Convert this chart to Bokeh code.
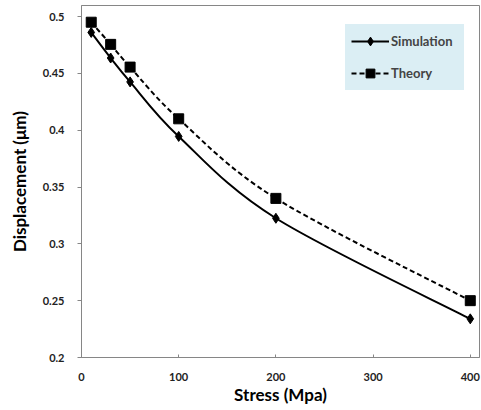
from bokeh.plotting import figure
from bokeh.models import Range1d, FixedTicker, Legend, LegendItem, ColumnDataSource
from bokeh.embed import file_html
from bokeh.resources import INLINE
import numpy as np

stress = [10, 30, 50, 100, 200, 400]
simulation = [0.486, 0.4635, 0.4425, 0.3945, 0.3225, 0.234]
theory = [0.495, 0.4755, 0.4555, 0.410, 0.340, 0.250]
x_ticks = [0, 100, 200, 300, 400]
y_ticks = [0.2, 0.25, 0.3, 0.35, 0.4, 0.45, 0.5]

FONT = "Lato"
AXIS_GRAY = "#868686"
LEGEND_BG = "#DBEEF4"


def smooth_segments(xs, ys):
    """Excel-style smoothed line: cubic Bezier control points (Catmull-Rom)."""
    x = np.asarray(xs, float)
    y = np.asarray(ys, float)
    n = len(x)
    xp = np.concatenate([[x[0]], x, [x[-1]]])
    yp = np.concatenate([[y[0]], y, [y[-1]]])
    d = dict(x0=[], y0=[], x1=[], y1=[], cx0=[], cy0=[], cx1=[], cy1=[])
    for i in range(n - 1):
        p0x, p0y = xp[i], yp[i]
        p1x, p1y = xp[i + 1], yp[i + 1]
        p2x, p2y = xp[i + 2], yp[i + 2]
        p3x, p3y = xp[i + 3], yp[i + 3]
        d["x0"].append(p1x); d["y0"].append(p1y)
        d["x1"].append(p2x); d["y1"].append(p2y)
        d["cx0"].append(p1x + (p2x - p0x) / 6.0)
        d["cy0"].append(p1y + (p2y - p0y) / 6.0)
        d["cx1"].append(p2x - (p3x - p1x) / 6.0)
        d["cy1"].append(p2y - (p3y - p1y) / 6.0)
    return ColumnDataSource(d)


p = figure(width=481, height=410, output_backend="svg", toolbar_location=None,
           x_range=Range1d(0, 409.5), y_range=Range1d(0.2, 0.5097),
           min_border_left=81, min_border_right=2, min_border_top=5,
           min_border_bottom=53)
p.background_fill_color = "white"
p.border_fill_color = "white"
p.outline_line_color = AXIS_GRAY
p.outline_line_width = 1
p.xgrid.visible = False
p.ygrid.visible = False

p.xaxis.ticker = FixedTicker(ticks=x_ticks)
p.yaxis.ticker = FixedTicker(ticks=y_ticks)
p.yaxis.major_label_overrides = {0.2: "0.2", 0.25: "0.25", 0.3: "0.3", 0.35: "0.35",
                                 0.4: "0.4", 0.45: "0.45", 0.5: "0.5"}
for ax in (p.xaxis[0], p.yaxis[0]):
    ax.axis_line_color = AXIS_GRAY
    ax.major_tick_line_color = AXIS_GRAY
    ax.minor_tick_line_color = None
    ax.major_label_text_font = FONT
    ax.major_label_text_font_style = "bold"
    ax.major_label_text_font_size = "11px"
    ax.major_label_text_color = "#222222"
    ax.axis_label_text_font = FONT
    ax.axis_label_text_font_style = "bold"
    ax.axis_label_text_font_size = "17px"
    ax.axis_label_text_color = "black"

p.xaxis.major_tick_in = 3
p.xaxis.major_tick_out = 0
p.xaxis.major_label_standoff = 15
p.xaxis.axis_label = "Stress (Mpa)"
p.xaxis.axis_label_standoff = 0

p.yaxis.major_tick_in = 0
p.yaxis.major_tick_out = 4
p.yaxis.major_label_standoff = 13
p.yaxis.axis_label = "Displacement (\u03bcm)"
p.yaxis.axis_label_standoff = 10

sim_src = smooth_segments(stress, simulation)
th_src = smooth_segments(stress, theory)

sim_line = p.bezier(x0="x0", y0="y0", x1="x1", y1="y1", cx0="cx0", cy0="cy0",
                    cx1="cx1", cy1="cy1", source=sim_src, line_color="black",
                    line_width=2)
th_line = p.bezier(x0="x0", y0="y0", x1="x1", y1="y1", cx0="cx0", cy0="cy0",
                   cx1="cx1", cy1="cy1", source=th_src, line_color="black",
                   line_width=2, line_dash="5 3")
sim_pts = p.scatter(stress, simulation, marker="diamond", size=10,
                    fill_color="black", line_color="black")
th_pts = p.scatter(stress, theory, marker="square", size=10,
                   fill_color="black", line_color="black")

legend = Legend(items=[LegendItem(label="Simulation", renderers=[sim_line, sim_pts]),
                       LegendItem(label="Theory", renderers=[th_line, th_pts])],
                location=(264, 267))
legend.background_fill_color = LEGEND_BG
legend.background_fill_alpha = 1
legend.border_line_color = LEGEND_BG
legend.label_text_font = FONT
legend.label_text_font_style = "bold"
legend.label_text_font_size = "13px"
legend.glyph_width = 38
legend.glyph_height = 22
legend.spacing = 10
legend.padding = 5
legend.margin = 0
legend.label_standoff = 2
legend.label_width = 67
p.add_layout(legend)

open("out.html", "w").write(file_html(p, INLINE))
